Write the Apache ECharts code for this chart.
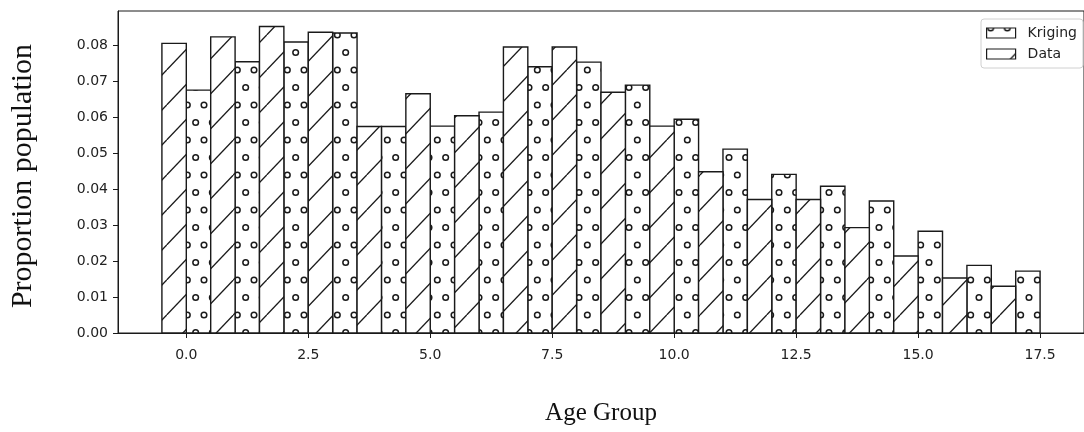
<!DOCTYPE html>
<html>
<head>
<meta charset="utf-8">
<title>Proportion population by age group</title>
<script src="https://cdn.jsdelivr.net/npm/echarts@6/dist/echarts.min.js"></script>
<style>
  html, body { margin: 0; padding: 0; background: #fff; }
  #chart { width: 1084px; height: 432px; }
</style>
</head>
<body>
<div id="chart"></div>
<script>
// Age groups on the horizontal axis
const ageGroups = [0, 1, 2, 3, 4, 5, 6, 7, 8, 9, 10, 11, 12, 13, 14, 15, 16, 17];

// Observed proportion of the population in each age group
const dataShare = [0.0805, 0.0823, 0.0852, 0.0836, 0.0574, 0.0665, 0.0604, 0.0795, 0.0795,
                   0.0669, 0.0575, 0.0448, 0.0371, 0.0371, 0.0293, 0.0214, 0.0153, 0.0130];

// Kriging estimate of the same proportions
const krigingShare = [0.0675, 0.0754, 0.0809, 0.0834, 0.0574, 0.0575, 0.0614, 0.0740, 0.0753,
                      0.0689, 0.0594, 0.0511, 0.0441, 0.0408, 0.0367, 0.0283, 0.0188, 0.0172];

// Tick labels
const xTickValues = [0, 2.5, 5, 7.5, 10, 12.5, 15, 17.5];
const yTickValues = [0, 0.01, 0.02, 0.03, 0.04, 0.05, 0.06, 0.07, 0.08];

const INK = '#1a1a1a';
const BAR_WIDTH = 0.5;   // in axis units, two bars per group

// Diagonal "/" hatch tile
function hatchTile() {
  const c = document.createElement('canvas');
  c.width = 100; c.height = 35;
  const g = c.getContext('2d');
  g.fillStyle = '#fff';
  g.fillRect(0, 0, c.width, c.height);
  g.strokeStyle = INK;
  g.lineWidth = 1.3;
  const step = c.width / 3;
  for (let k = -1; k <= 3; k++) {
    g.beginPath();
    g.moveTo(k * step, c.height);
    g.lineTo((k + 1) * step, 0);
    g.stroke();
  }
  return c;
}

// Small open-circle hatch tile, staggered rows
function circleTile() {
  const c = document.createElement('canvas');
  c.width = 50; c.height = 35;
  const g = c.getContext('2d');
  g.fillStyle = '#fff';
  g.fillRect(0, 0, c.width, c.height);
  g.strokeStyle = INK;
  g.lineWidth = 1.5;
  const dx = c.width / 3;
  const pts = [];
  for (let i = 0; i <= 3; i++) {
    pts.push([i * dx, 0], [i * dx, c.height]);
  }
  for (let i = 0; i < 3; i++) {
    pts.push([dx / 2 + i * dx, c.height / 2]);
  }
  pts.forEach(function (p) {
    g.beginPath();
    g.arc(p[0], p[1], 2.8, 0, Math.PI * 2);
    g.stroke();
  });
  return c;
}

const dataFill = { image: hatchTile(), repeat: 'repeat', x: 0, y: 0 };
const krigingFill = { image: circleTile(), repeat: 'repeat', x: 4, y: 0 };

function barRenderer(offset, fill) {
  return function (params, api) {
    const x = api.value(0) + offset;
    const y = api.value(1);
    const topLeft = api.coord([x - BAR_WIDTH / 2, y]);
    const bottomRight = api.coord([x + BAR_WIDTH / 2, 0]);
    return {
      type: 'rect',
      shape: {
        x: topLeft[0],
        y: topLeft[1],
        width: bottomRight[0] - topLeft[0],
        height: bottomRight[1] - topLeft[1]
      },
      style: { fill: fill, stroke: INK, lineWidth: 1.4 }
    };
  };
}

const chart = echarts.init(document.getElementById('chart'), null, { renderer: 'canvas' });

const tickFont = { fontFamily: 'DejaVu Sans', fontSize: 14, color: '#222' };

chart.setOption({
  animation: false,
  backgroundColor: '#fff',
  grid: {
    left: 118, top: 11, right: -7, bottom: 99,
    show: true, borderColor: INK, borderWidth: 1, backgroundColor: 'transparent'
  },
  legend: {
    orient: 'vertical',
    left: 981, top: 19,
    padding: [7, 6, 7, 5],
    itemWidth: 29, itemHeight: 10, itemGap: 7,
    backgroundColor: '#fff',
    borderColor: '#d0d0d0', borderWidth: 1, borderRadius: 3,
    textStyle: Object.assign({ padding: [0, 0, 0, 7] }, tickFont),
    data: [
      { name: 'Kriging', icon: 'rect',
        itemStyle: { color: krigingFill, borderColor: INK, borderWidth: 1.2 } },
      { name: 'Data', icon: 'rect',
        itemStyle: { color: dataFill, borderColor: INK, borderWidth: 1.2 } }
    ]
  },
  xAxis: {
    type: 'value',
    min: -1.4, max: 18.4,
    splitLine: { show: false },
    axisLine: { show: true, onZero: false, lineStyle: { color: INK, width: 1 } },
    axisTick: { show: true, length: 5, lineStyle: { color: INK }, customValues: xTickValues },
    axisLabel: Object.assign({
      margin: 15,
      customValues: xTickValues,
      formatter: function (v) { return v.toFixed(1); }
    }, tickFont),
    name: 'Age Group',
    nameLocation: 'middle',
    nameGap: 68,
    nameTextStyle: { fontFamily: 'Liberation Serif', fontSize: 25, color: '#111' }
  },
  yAxis: {
    type: 'value',
    min: 0, max: 0.0895,
    splitLine: { show: false },
    axisLine: { show: true, onZero: false, lineStyle: { color: INK, width: 1 } },
    axisTick: { show: true, length: 5, lineStyle: { color: INK }, customValues: yTickValues },
    axisLabel: Object.assign({
      margin: 10,
      customValues: yTickValues,
      formatter: function (v) { return v.toFixed(2); }
    }, tickFont),
    name: 'Proportion population',
    nameLocation: 'middle',
    nameGap: 80,
    nameTextStyle: {
      fontFamily: 'Liberation Serif', fontSize: 30, color: '#111',
      padding: [0, 8, 0, 0]
    }
  },
  series: [
    {
      name: 'Kriging',
      type: 'custom',
      itemStyle: { color: krigingFill, borderColor: INK, borderWidth: 1.2 },
      renderItem: barRenderer(BAR_WIDTH / 2, krigingFill),
      encode: { x: 0, y: 1 },
      data: ageGroups.map(function (g, i) { return [g, krigingShare[i]]; })
    },
    {
      name: 'Data',
      type: 'custom',
      itemStyle: { color: dataFill, borderColor: INK, borderWidth: 1.2 },
      renderItem: barRenderer(-BAR_WIDTH / 2, dataFill),
      encode: { x: 0, y: 1 },
      data: ageGroups.map(function (g, i) { return [g, dataShare[i]]; })
    }
  ]
});
</script>
</body>
</html>
